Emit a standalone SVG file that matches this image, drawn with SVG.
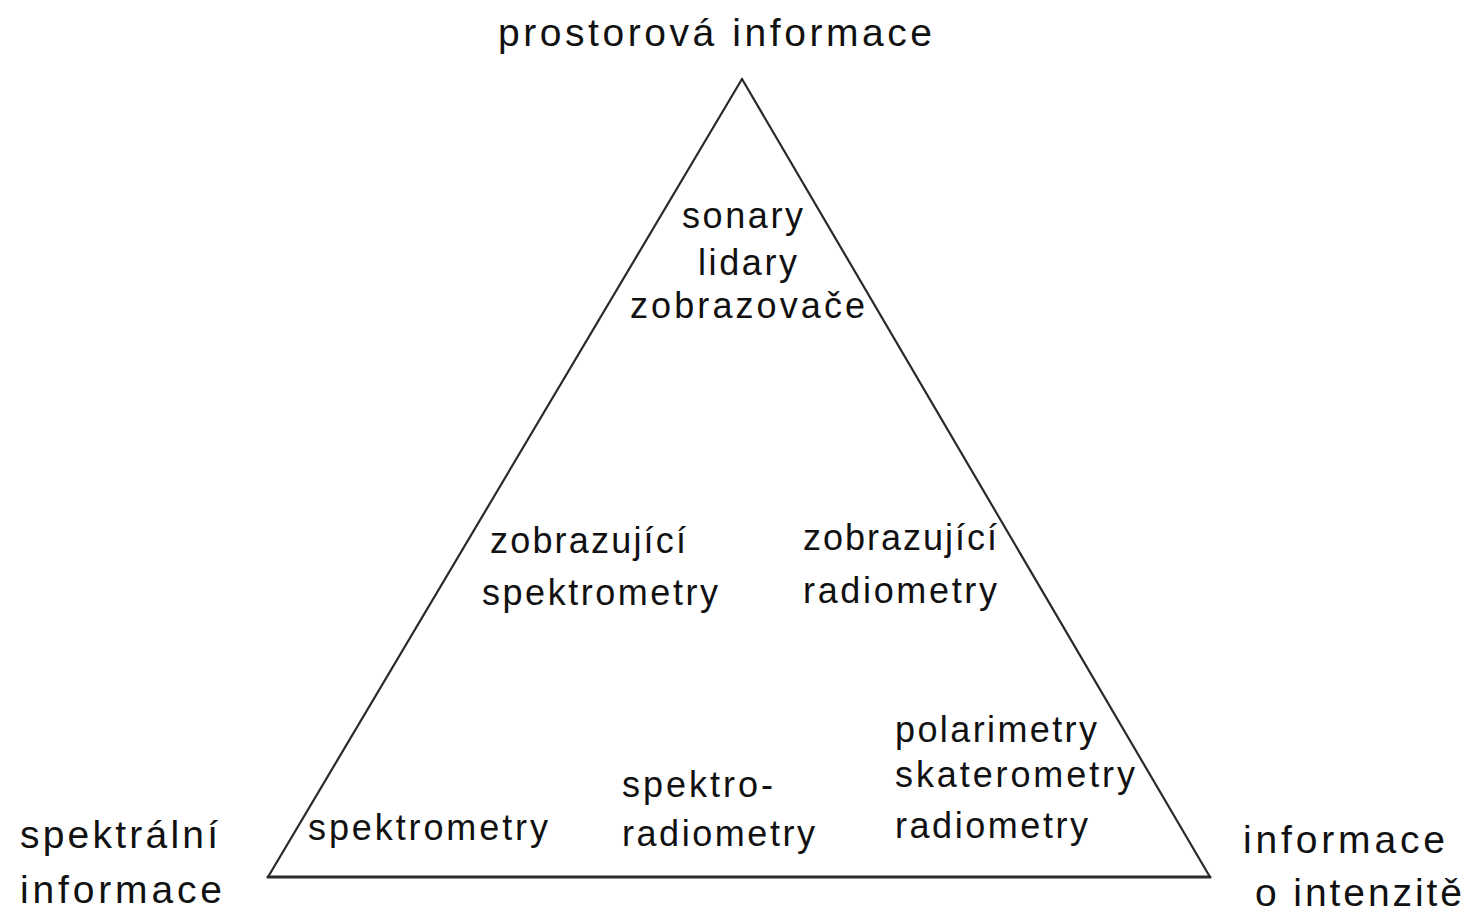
<svg xmlns="http://www.w3.org/2000/svg" width="1470" height="912" viewBox="0 0 1470 912">
<style>
text{font-family:"Liberation Sans",Arial,sans-serif;fill:#111;font-size:36px}
.big{font-size:39px}
.edge{stroke:#2a2a2a;fill:none;stroke-linecap:round}
</style>
<rect width="1470" height="912" fill="#fff"/>
<g id="connectors">
<line class="edge" x1="742" y1="79" x2="268" y2="877" stroke-width="2.2"/>
<line class="edge" x1="742" y1="79" x2="1210" y2="877" stroke-width="2.2"/>
<line class="edge" x1="268" y1="877" x2="1210" y2="877" stroke-width="3.2"/>
</g>
<g id="top-label"><text class="big" x="498" y="46" textLength="434" lengthAdjust="spacing">prostorová informace</text></g>
<g id="left-label">
<text class="big" x="20" y="848" textLength="198" lengthAdjust="spacing">spektrální</text>
<text class="big" x="20" y="903" textLength="202" lengthAdjust="spacing">informace</text>
</g>
<g id="right-label">
<text class="big" x="1243" y="853" textLength="202" lengthAdjust="spacing">informace</text>
<text class="big" x="1255" y="906" textLength="207" lengthAdjust="spacing">o intenzitě</text>
</g>
<g id="top-node">
<text x="682" y="228" textLength="121" lengthAdjust="spacing">sonary</text>
<text x="698" y="275" textLength="99" lengthAdjust="spacing">lidary</text>
<text x="630" y="318" textLength="235" lengthAdjust="spacing">zobrazovače</text>
</g>
<g id="left-mid-node">
<text x="490" y="553" textLength="196" lengthAdjust="spacing">zobrazující</text>
<text x="482" y="605" textLength="236" lengthAdjust="spacing">spektrometry</text>
</g>
<g id="right-mid-node">
<text x="803" y="550" textLength="194" lengthAdjust="spacing">zobrazující</text>
<text x="803" y="603" textLength="194" lengthAdjust="spacing">radiometry</text>
</g>
<g id="right-bottom-node">
<text x="895" y="742" textLength="202" lengthAdjust="spacing">polarimetry</text>
<text x="895" y="787" textLength="240" lengthAdjust="spacing">skaterometry</text>
<text x="895" y="838" textLength="193" lengthAdjust="spacing">radiometry</text>
</g>
<g id="center-bottom-node">
<text x="622" y="797" textLength="151" lengthAdjust="spacing">spektro-</text>
<text x="622" y="846" textLength="193" lengthAdjust="spacing">radiometry</text>
</g>
<g id="left-bottom-node">
<text x="308" y="840" textLength="240" lengthAdjust="spacing">spektrometry</text>
</g>
</svg>
